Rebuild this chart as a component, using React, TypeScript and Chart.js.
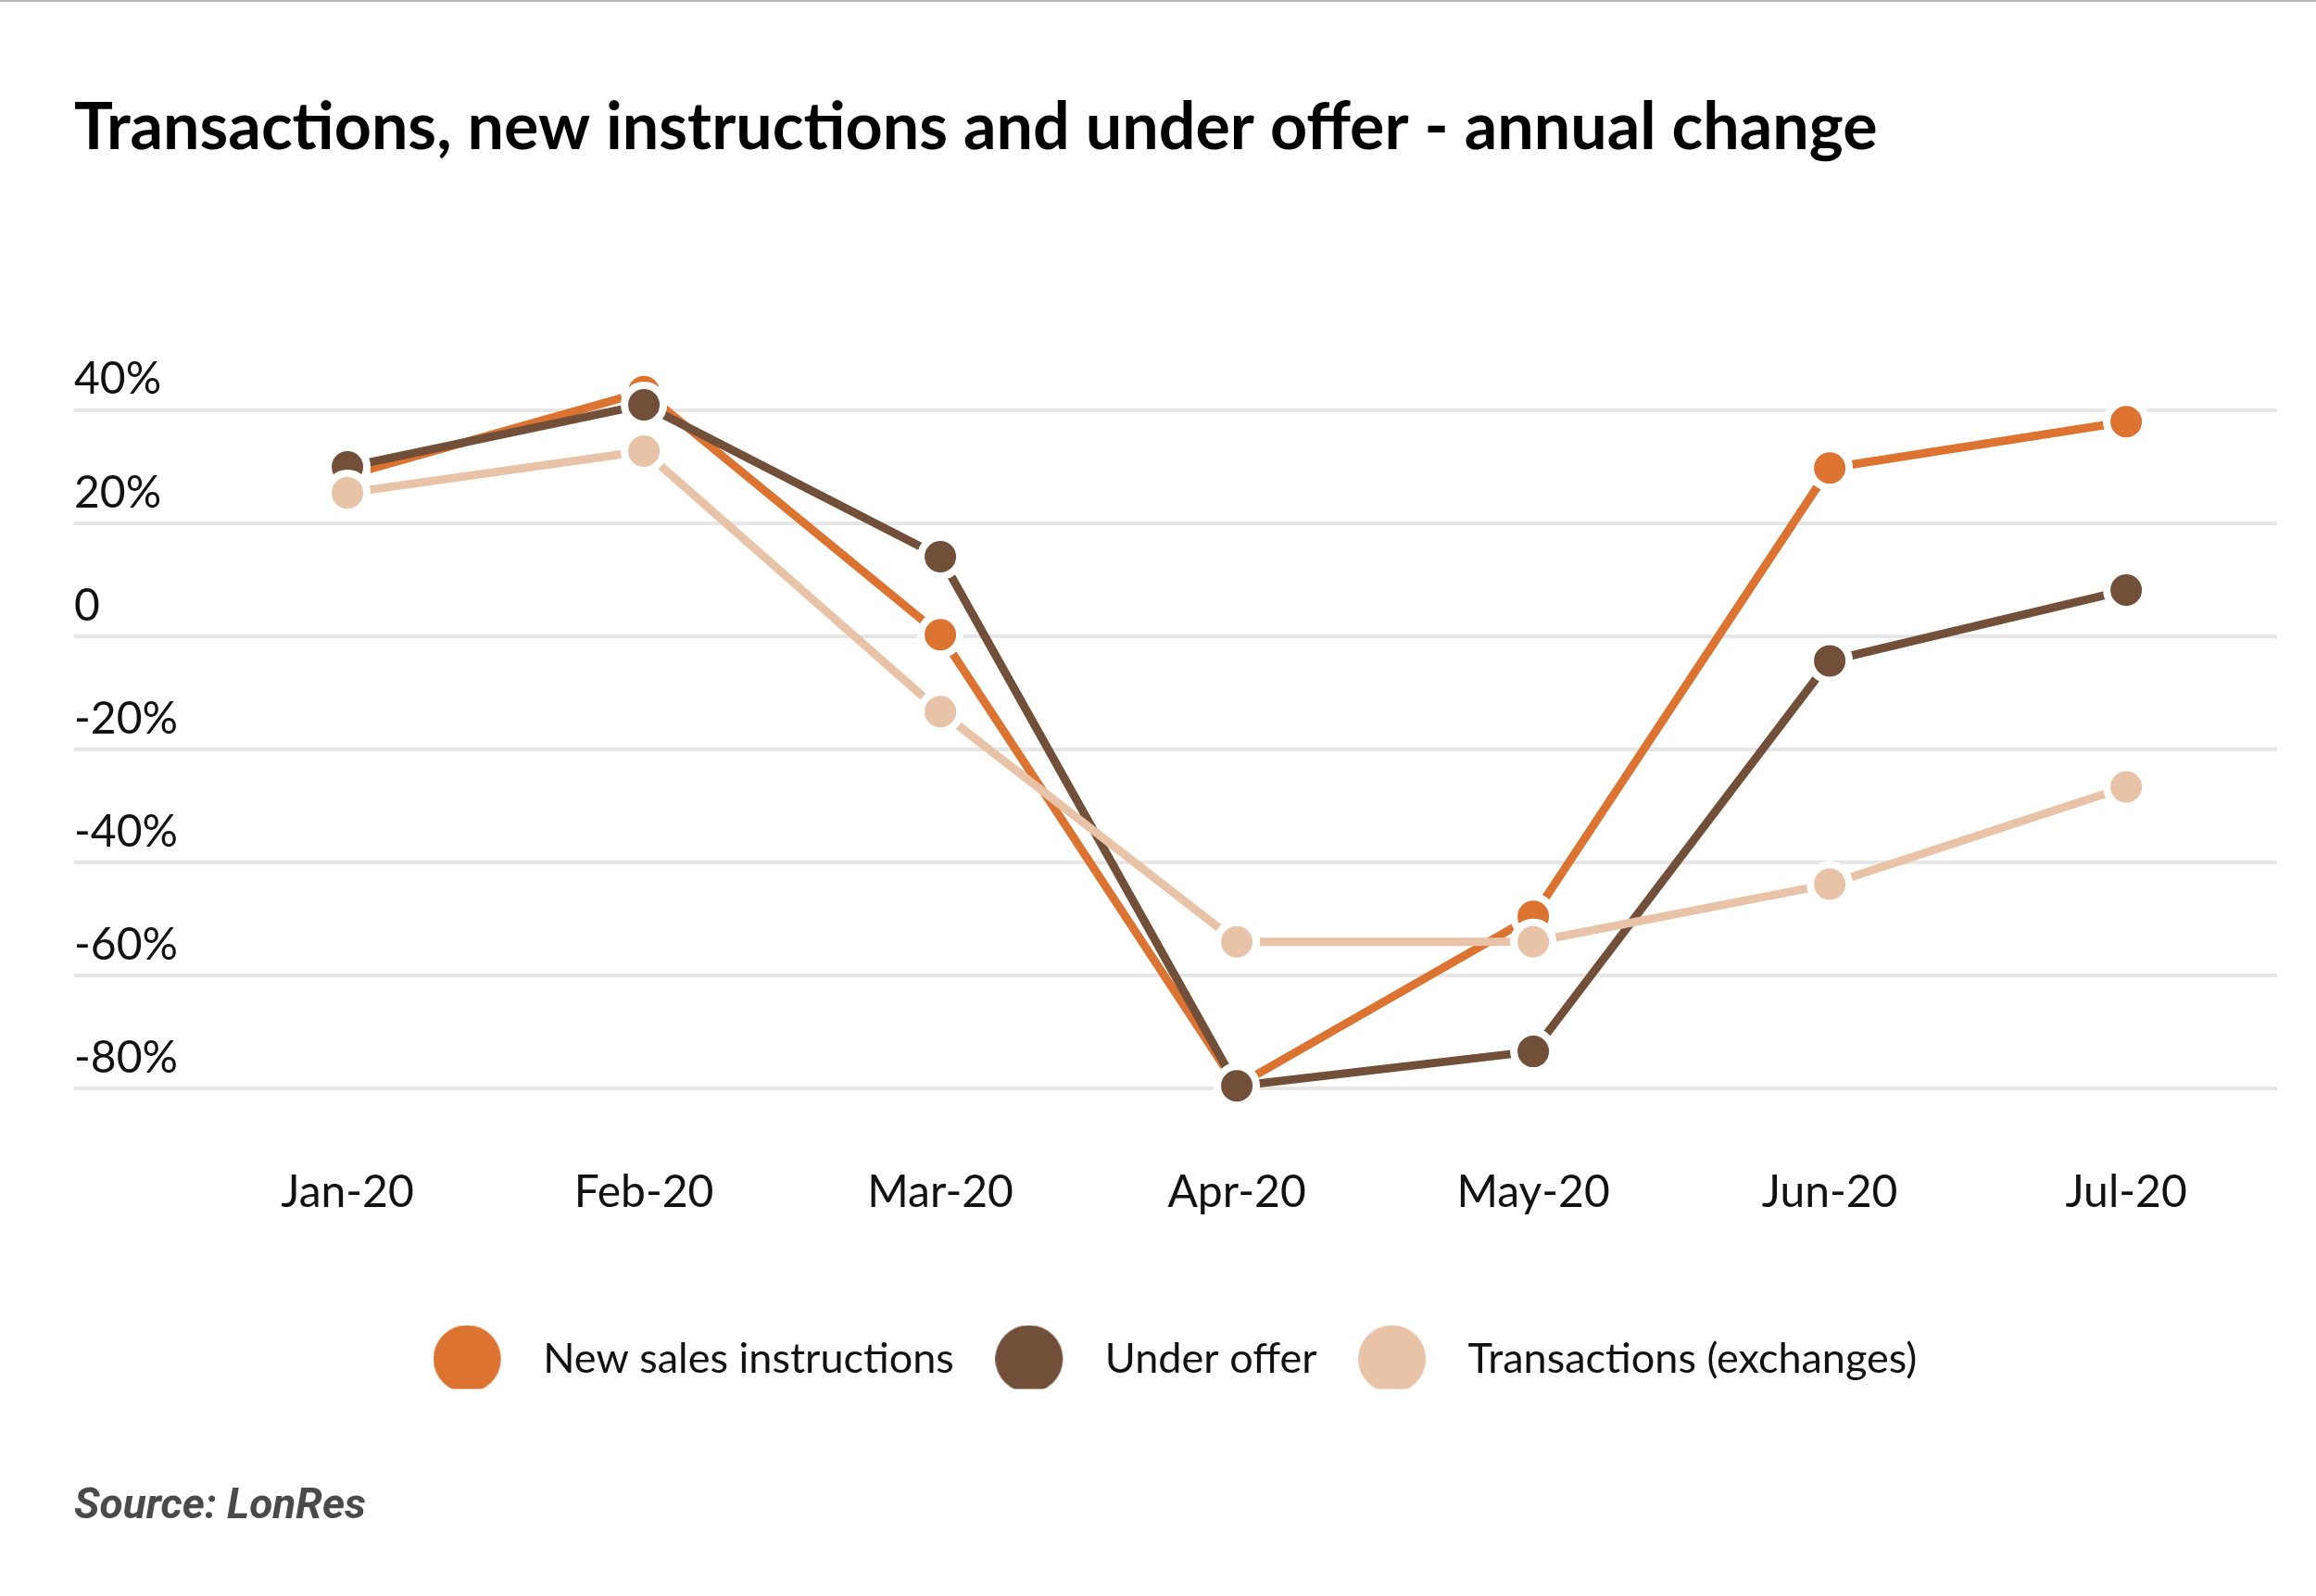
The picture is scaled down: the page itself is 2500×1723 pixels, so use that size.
import React, { useEffect, useRef } from 'react';
import { Chart, registerables } from 'chart.js';

Chart.register(...registerables);

// ---- data ----
const categories = ['Jan-20', 'Feb-20', 'Mar-20', 'Apr-20', 'May-20', 'Jun-20', 'Jul-20'];
const newSalesInstructions = [28.5, 43.3, 0.3, -79.5, -49.5, 29.8, 38.0];
const underOffer = [30.0, 41.0, 14.1, -79.5, -73.4, -4.3, 8.2];
const transactions = [25.4, 32.8, -13.3, -54.0, -54.0, -43.8, -26.6];
const seriesNames = ['New sales instructions', 'Under offer', 'Transactions (exchanges)'];
const yTickValues = [-80, -60, -40, -20, 0, 20, 40];
const yTickLabels = ['-80%', '-60%', '-40%', '-20%', '0', '20%', '40%'];
const titleText = 'Transactions, new instructions and under offer - annual change';
const sourceText = 'Source: LonRes';

// ---- styles ----
const seriesColors = ['#dd7331', '#724f38', '#e8c3a7'];
const W = 2500;
const H = 1723;

// legend marker: 73px circle, shifted 12px left of the image centre
const makeDot = (color: string) => {
  const c = document.createElement('canvas');
  c.width = 97;
  c.height = 73;
  const g = c.getContext('2d')!;
  g.fillStyle = color;
  g.beginPath();
  g.arc(36.5, 36.5, 36.5, 0, Math.PI * 2);
  g.fill();
  return c;
};

const bgPlugin = {
  id: 'bgPlugin',
  beforeDraw(chart: any) {
    const { ctx } = chart;
    ctx.save();
    ctx.fillStyle = '#ffffff';
    ctx.fillRect(0, 0, chart.width, chart.height);
    ctx.fillStyle = '#b8b8b8';
    ctx.fillRect(0, 0, chart.width, 2);
    ctx.restore();
  },
};

export default function App() {
  const ref = useRef<HTMLCanvasElement>(null);

  useEffect(() => {
    if (!ref.current) return;
    const seriesValues = [newSalesInstructions, underOffer, transactions];
    const drawOrder = [3, 2, 1];
    const datasets = seriesValues.map((vals, s) => ({
      label: seriesNames[s],
      data: vals.map((y, i) => ({ x: i, y })),
      borderColor: seriesColors[s],
      backgroundColor: seriesColors[s],
      borderWidth: 9,
      pointRadius: 21,
      pointBorderWidth: 8,
      pointBackgroundColor: seriesColors[s],
      pointBorderColor: '#ffffff',
      pointHoverRadius: 21,
      tension: 0,
      clip: false as any,
      order: drawOrder[s],
    }));

    const chart = new Chart(ref.current, {
      type: 'line',
      data: { datasets },
      plugins: [bgPlugin],
      options: {
        responsive: false,
        devicePixelRatio: 1,
        animation: false,
        events: [],
        layout: { padding: { left: 80, right: 42, top: 0, bottom: 68.4 } },
        scales: {
          x: {
            type: 'linear',
            min: -0.922,
            max: 6.509,
            grid: { display: false, drawTicks: false },
            border: { display: false },
            afterBuildTicks: (scale: any) => {
              scale.ticks = categories.map((_, i) => ({ value: i }));
            },
            ticks: {
              autoSkip: false,
              maxRotation: 0,
              padding: 83,
              color: '#111111',
              font: { family: 'Lato', size: 48 },
              callback: (v: any) => categories[v as number],
            },
          },
          y: {
            type: 'linear',
            min: -80,
            max: 40,
            position: 'left',
            grid: { color: '#e6e6e6', lineWidth: 4, drawTicks: false },
            border: { display: false },
            afterBuildTicks: (scale: any) => {
              scale.ticks = yTickValues.map((v) => ({ value: v }));
            },
            ticks: {
              mirror: true,
              padding: 0,
              labelOffset: -33,
              color: '#111111',
              font: { family: 'Lato', size: 48 },
              callback: (v: any) => yTickLabels[yTickValues.indexOf(v as number)],
            },
          },
        },
        plugins: {
          title: {
            display: true,
            text: titleText,
            align: 'start',
            color: '#000000',
            font: { family: 'Lato, sans-serif', size: 70, weight: 'bold', lineHeight: 1.2 },
            padding: { top: 96.2, bottom: 262.8 },
          },
          subtitle: {
            display: true,
            position: 'bottom',
            align: 'start',
            text: sourceText,
            color: '#4a4a4a',
            font: { family: 'Roboto', size: 46, style: 'italic', weight: 'bold', lineHeight: 1.2 },
            padding: { top: 99.9, bottom: 0 },
          },
          legend: {
            display: true,
            position: 'bottom',
            align: 'center',
            labels: {
              usePointStyle: true,
              pointStyleWidth: 95,
              padding: 45.5,
              color: '#111111',
              font: { family: 'Lato', size: 45 },
              generateLabels: (c: any) =>
                (Chart.defaults.plugins.legend.labels as any)
                  .generateLabels(c)
                  .map((item: any) => ({ ...item, pointStyle: makeDot(seriesColors[item.datasetIndex]) })),
              sort: (a: any, b: any) => a.datasetIndex - b.datasetIndex,
            },
          },
          tooltip: { enabled: false },
        },
      } as any,
    });
    return () => chart.destroy();
  }, []);

  return (
    <div style={{ position: 'absolute', left: 0, top: 0, width: W, height: H }}>
      <canvas ref={ref} width={W} height={H} style={{ display: 'block', width: W, height: H }} />
    </div>
  );
}
